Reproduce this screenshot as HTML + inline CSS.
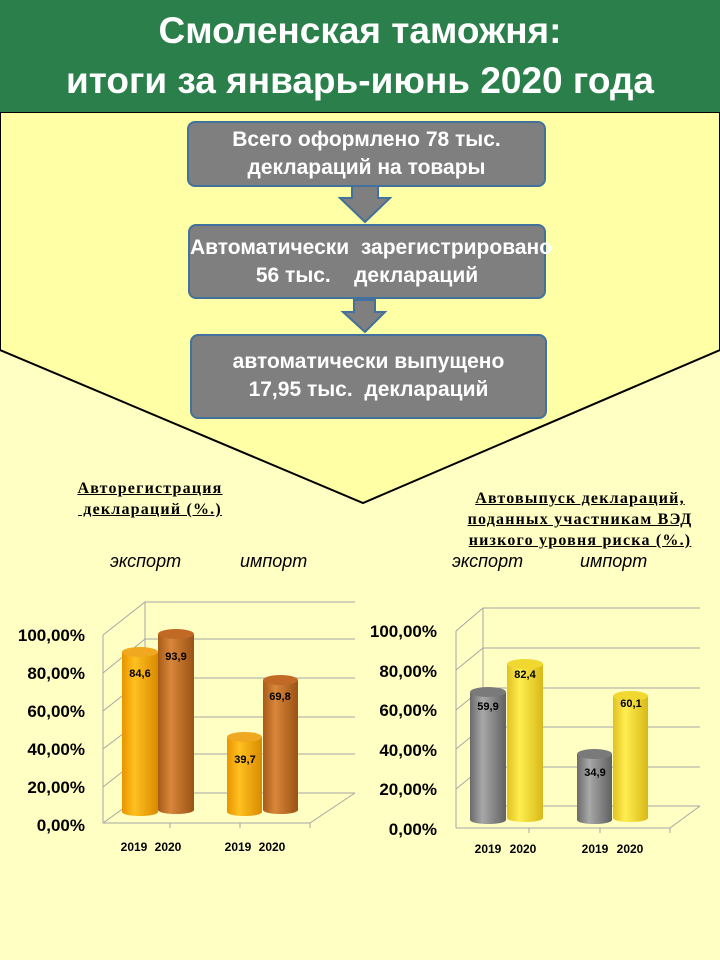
<!DOCTYPE html><html><head><meta charset="utf-8"><style>
body{margin:0;width:720px;height:960px;background:#ffffc4;position:relative;overflow:hidden;font-family:"Liberation Sans",sans-serif}
.a{position:absolute}
.box{position:absolute;background:#7f7f7f;border:2px solid #41719c;border-radius:8px;color:#fff;font-weight:bold;font-size:21px;text-align:center;line-height:28px;box-sizing:border-box;white-space:nowrap}
.t{position:absolute;font-family:"Liberation Serif",serif;font-weight:bold;font-size:16px;letter-spacing:1.2px;text-decoration:underline;text-align:center;line-height:21px;white-space:nowrap}
.i{position:absolute;font-style:italic;font-size:18px}
</style></head><body>
<svg class="a" style="left:0;top:0" width="720" height="960">
<polygon points="0,112 720,112 720,350 363,503 0,350" fill="#ffffa6" stroke="#000" stroke-width="2"/>
<rect x="0" y="0" width="720" height="112" fill="#2a7f4b"/>
<polygon points="352,186 378,186 378,198 390,198 365,222 340,198 352,198" fill="#7f7f7f" stroke="#41719c" stroke-width="2"/>
<polygon points="354,300 375,300 375,312 385,312 365,332 343,312 354,312" fill="#7f7f7f" stroke="#41719c" stroke-width="2"/>
<g stroke="#a6a6a6" stroke-width="1" fill="none">
<polyline points="103,635 145,602 355,602"/><polyline points="103,823 145,793 355,793"/><line x1="145" y1="602" x2="145" y2="793"/>
<line x1="145" y1="639" x2="355" y2="639"/><line x1="145" y1="678" x2="355" y2="678"/><line x1="145" y1="717" x2="355" y2="717"/><line x1="145" y1="754" x2="355" y2="754"/>
<line x1="103" y1="673" x2="145" y2="639"/><line x1="103" y1="711" x2="145" y2="678"/><line x1="103" y1="749" x2="145" y2="717"/><line x1="103" y1="787" x2="145" y2="754"/>
<line x1="103" y1="635" x2="103" y2="823"/><polyline points="103,823 310,823 355,793"/>
<line x1="170" y1="823" x2="170" y2="828"/><line x1="240" y1="823" x2="240" y2="828"/><line x1="310" y1="823" x2="310" y2="828"/>
<polyline points="456,631 483,608 700,608"/><line x1="483" y1="608" x2="483" y2="806"/>
<line x1="483" y1="648" x2="700" y2="648"/><line x1="483" y1="688" x2="700" y2="688"/><line x1="483" y1="727" x2="700" y2="727"/><line x1="483" y1="767" x2="700" y2="767"/><line x1="483" y1="806" x2="700" y2="806"/>
<line x1="456" y1="670" x2="483" y2="648"/><line x1="456" y1="710" x2="483" y2="688"/><line x1="456" y1="749" x2="483" y2="727"/><line x1="456" y1="789" x2="483" y2="767"/>
<line x1="456" y1="631" x2="456" y2="828"/><polyline points="456,828 670,828 700,806"/>
<line x1="529" y1="828" x2="529" y2="833"/><line x1="600" y1="828" x2="600" y2="833"/><line x1="670" y1="828" x2="670" y2="833"/>
</g>
<defs>
<linearGradient id="o" x1="0" x2="1"><stop offset="0" stop-color="#e89400"/><stop offset=".35" stop-color="#ffc020"/><stop offset="1" stop-color="#d88a00"/></linearGradient>
<linearGradient id="b" x1="0" x2="1"><stop offset="0" stop-color="#a85a18"/><stop offset=".35" stop-color="#d8863a"/><stop offset="1" stop-color="#9a5214"/></linearGradient>
<linearGradient id="g" x1="0" x2="1"><stop offset="0" stop-color="#6a6a6a"/><stop offset=".35" stop-color="#a8a8a8"/><stop offset="1" stop-color="#606060"/></linearGradient>
<linearGradient id="y" x1="0" x2="1"><stop offset="0" stop-color="#e0c020"/><stop offset=".35" stop-color="#ffee50"/><stop offset="1" stop-color="#d8b818"/></linearGradient>
</defs>
<g>
<rect x="122" y="652" width="36" height="160" fill="url(#o)"/><ellipse cx="140" cy="812" rx="18" ry="4" fill="url(#o)"/><ellipse cx="140" cy="652" rx="18" ry="5" fill="#f0a820"/>
<rect x="158" y="634" width="36" height="176" fill="url(#b)"/><ellipse cx="176" cy="810" rx="18" ry="4" fill="url(#b)"/><ellipse cx="176" cy="634" rx="18" ry="5" fill="#c06a26"/>
<rect x="227" y="737" width="35" height="75" fill="url(#o)"/><ellipse cx="244.5" cy="812" rx="17.5" ry="4" fill="url(#o)"/><ellipse cx="244.5" cy="737" rx="17.5" ry="5" fill="#f0a820"/>
<rect x="263" y="680" width="35" height="130" fill="url(#b)"/><ellipse cx="280.5" cy="810" rx="17.5" ry="4" fill="url(#b)"/><ellipse cx="280.5" cy="680" rx="17.5" ry="5" fill="#c06a26"/>
<rect x="470" y="692" width="36" height="128" fill="url(#g)"/><ellipse cx="488" cy="820" rx="18" ry="4" fill="url(#g)"/><ellipse cx="488" cy="692" rx="18" ry="5" fill="#7a7a7a"/>
<rect x="507" y="664" width="36" height="154" fill="url(#y)"/><ellipse cx="525" cy="818" rx="18" ry="4" fill="url(#y)"/><ellipse cx="525" cy="664" rx="18" ry="5" fill="#f0d830"/>
<rect x="577" y="754" width="35" height="66" fill="url(#g)"/><ellipse cx="594.5" cy="820" rx="17.5" ry="4" fill="url(#g)"/><ellipse cx="594.5" cy="754" rx="17.5" ry="5" fill="#7a7a7a"/>
<rect x="613" y="696" width="35" height="122" fill="url(#y)"/><ellipse cx="630.5" cy="818" rx="17.5" ry="4" fill="url(#y)"/><ellipse cx="630.5" cy="696" rx="17.5" ry="5" fill="#f0d830"/>
</g>
<g font-family="Liberation Sans,sans-serif" font-weight="bold" font-size="11" text-anchor="middle" fill="#000">
<text x="140" y="677">84,6</text><text x="176" y="660">93,9</text><text x="245" y="763">39,7</text><text x="280" y="700">69,8</text>
<text x="488" y="710">59,9</text><text x="525" y="678">82,4</text><text x="595" y="776">34,9</text><text x="631" y="707">60,1</text>
<g font-size="12"><text x="134" y="851">2019</text><text x="168" y="851">2020</text><text x="238" y="851">2019</text><text x="272" y="851">2020</text>
<text x="488" y="853">2019</text><text x="523" y="853">2020</text><text x="595" y="853">2019</text><text x="630" y="853">2020</text></g>
</g>
<g font-family="Liberation Sans,sans-serif" font-weight="bold" font-size="17" text-anchor="end" fill="#000">
<text x="85" y="641">100,00%</text><text x="85" y="679">80,00%</text><text x="85" y="717">60,00%</text><text x="85" y="755">40,00%</text><text x="85" y="793">20,00%</text><text x="85" y="831">0,00%</text>
<text x="437" y="637">100,00%</text><text x="437" y="677">80,00%</text><text x="437" y="716">60,00%</text><text x="437" y="756">40,00%</text><text x="437" y="795">20,00%</text><text x="437" y="835">0,00%</text>
</g>
</svg>
<div class="a" style="left:0;top:6px;width:720px;text-align:center;color:#fff;font-weight:bold;font-size:37px;line-height:50px">Смоленская таможня:<br>итоги за январь-июнь 2020 года</div>
<div class="box" style="left:187px;top:121px;width:359px;height:66px;padding-top:3px">Всего оформлено 78 тыс.<br>деклараций на товары</div>
<div class="box" style="left:188px;top:224px;width:358px;height:75px;padding-top:8px;overflow:visible">Автоматически&nbsp; зарегистрировано<br>56 тыс.&nbsp;&nbsp;&nbsp; деклараций</div>
<div class="box" style="left:190px;top:334px;width:357px;height:85px;padding-top:12px">автоматически выпущено<br>17,95 тыс.&nbsp; деклараций</div>
<div class="t" style="left:50px;top:478px;width:200px">Авторегистрация<br>&nbsp;деклараций (%.)</div>
<div class="t" style="left:440px;top:488px;width:280px">Автовыпуск деклараций,<br>поданных участникам ВЭД<br>низкого уровня риска (%.)</div>
<div class="i" style="left:110px;top:551px">экспорт</div><div class="i" style="left:240px;top:551px">импорт</div>
<div class="i" style="left:452px;top:551px">экспорт</div><div class="i" style="left:580px;top:551px">импорт</div>
</body></html>
